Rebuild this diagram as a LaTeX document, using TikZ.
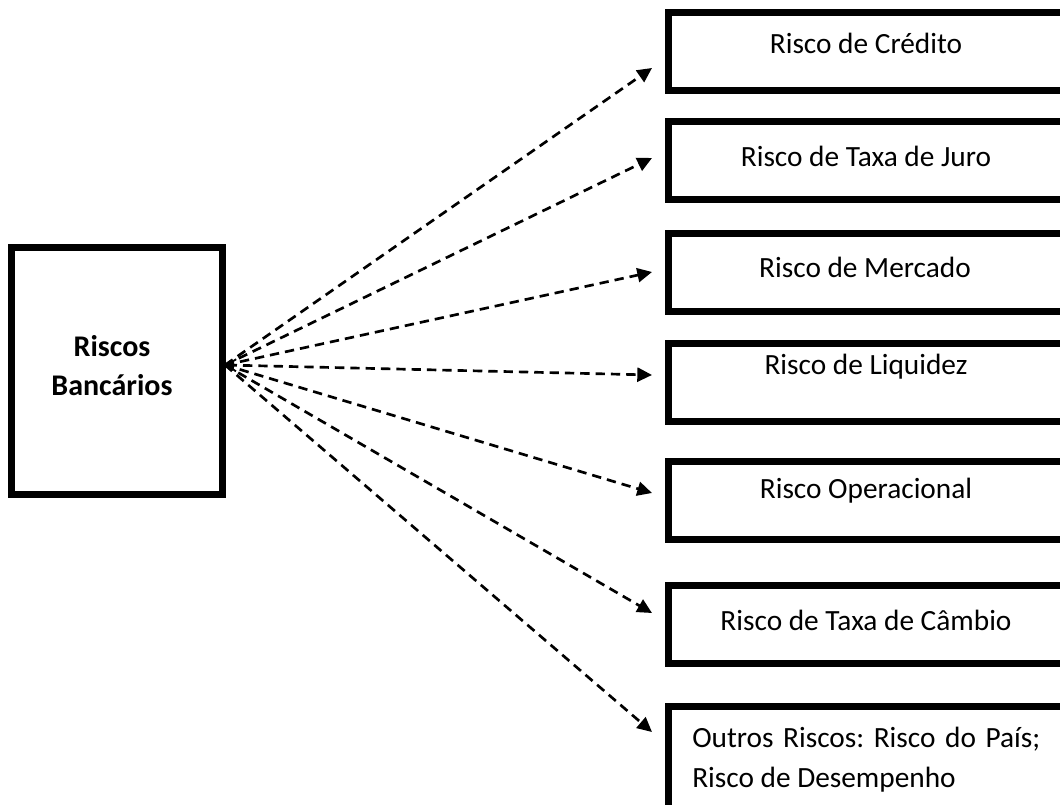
\documentclass[tikz,border=0pt]{standalone}
\usepackage{fontspec}
\setmainfont{Carlito}
\usetikzlibrary{arrows.meta}
\begin{document}
\begin{tikzpicture}[x=0.75pt,y=-0.75pt,
  box/.style={draw=black,line width=5.25pt,fill=none,inner sep=0pt},
  riskbox/.style={box,minimum width=308.6pt,minimum height=58.2pt},
  label/.style={anchor=base,inner sep=0pt,font=\fontsize{22}{26}\selectfont},
  boldlabel/.style={label,font=\fontsize{22.5}{26}\selectfont\bfseries},
  link/.style={line width=2pt,dash pattern=on 7pt off 4.5pt,
    -{Triangle[length=11pt,width=10.5pt]}}
]
\useasboundingbox (0,0) rectangle (1060,805);
\clip (0,0) rectangle (1060,805);

% main box
\node[box,minimum width=157.9pt,minimum height=184.9pt] (main) at (116.75,370.75) {};
\node[boldlabel] (mainA) at (112,357) {Riscos};
\node[boldlabel] (mainB) at (112,396) {Bancários};

% risk boxes
\node[riskbox] (b1) at (874.25,51.75) {};
\node[riskbox] (b2) at (874.25,160.25) {};
\node[riskbox] (b3) at (874.25,272.5) {};
\node[riskbox] (b4) at (874.25,382.75) {};
\node[riskbox] (b5) at (874.25,500.75) {};
\node[riskbox] (b6) at (874.25,624.75) {};
\node[box,minimum width=308.6pt,minimum height=85.5pt] (b7) at (874.25,763) {};

\node[label] (l1) at (866,54) {Risco de Crédito};
\node[label] (l2) at (866,167) {Risco de Taxa de Juro};
\node[label] (l3) at (865,278) {Risco de Mercado};
\node[label] (l4) at (866,375) {Risco de Liquidez};
\node[label] (l5) at (866,498) {Risco Operacional};
\node[label] (l6) at (866,630) {Risco de Taxa de Câmbio};
\node[label,anchor=base west] (l7a) at (692,747)
  {\frenchspacing\makebox[261pt][s]{Outros Riscos: Risco do País;}};
\node[label,anchor=base west] (l7b) at (692,787) {Risco de Desempenho};

% connectors from the main box
\coordinate (hub) at (225,365);
\coordinate (t1) at (652,68);
\coordinate (t2) at (652,158);
\coordinate (t3) at (652,272);
\coordinate (t4) at (652,375);
\coordinate (t5) at (652,493);
\coordinate (t6) at (652,613);
\coordinate (t7) at (652,732);

\draw[link] (hub) -- (t1);
\draw[link] (hub) -- (t2);
\draw[link] (hub) -- (t3);
\draw[link,{Straight Barb[length=7pt,width=9pt,line width=1.4pt]}-{Triangle[length=11pt,width=10.5pt]}] (hub) -- (t4);
\draw[link] (hub) -- (t5);
\draw[link] (hub) -- (t6);
\draw[link] (hub) -- (t7);
\end{tikzpicture}
\end{document}
